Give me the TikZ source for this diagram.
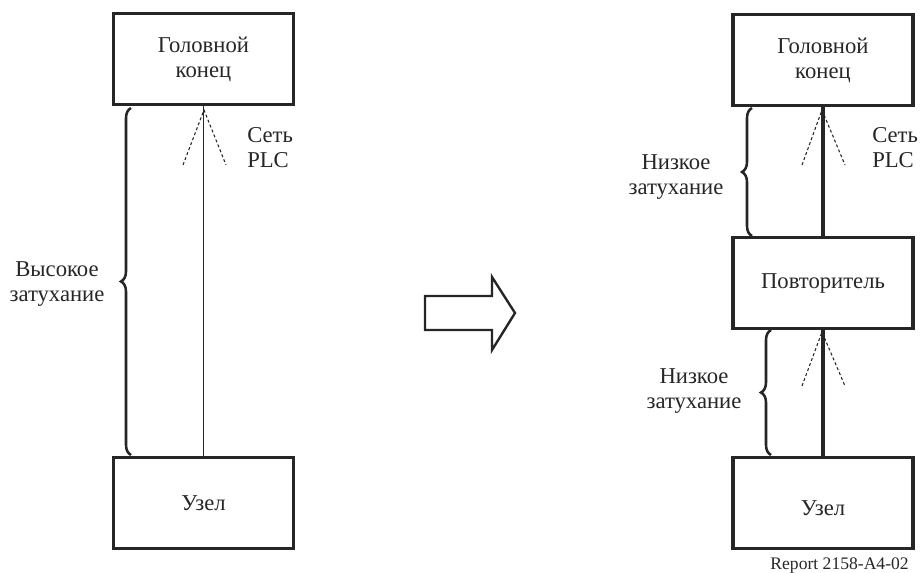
\documentclass[tikz,border=0pt]{standalone}
\usepackage{fontspec}
\setmainfont{Liberation Serif}
\usetikzlibrary{decorations.pathreplacing}
\definecolor{ink}{HTML}{262626}
\newcommand\mainsize{\fontsize{17}{18.8}\selectfont}
\newcommand\smallsize{\fontsize{13.2}{15}\selectfont}
\begin{document}
\begin{tikzpicture}[x=0.75pt,y=-0.75pt,
  box/.style={draw=ink,line width=2.3pt,minimum width=135pt,minimum height=68pt,inner sep=0pt,align=center,font=\mainsize,text=ink},
  lbl/.style={font=\mainsize,text=ink,inner sep=0pt},
  thinwire/.style={draw=ink,line width=1.1pt},
  thickwire/.style={draw=ink,line width=3pt},
  dots/.style={draw=ink,line width=0.8pt,dash pattern=on 2.2pt off 1.8pt},
  bracestyle/.style={draw=ink,line width=1.9pt,decorate,decoration={brace,amplitude=7.5pt}},
  hollow/.style={draw=ink,line width=1.8pt,fill=white,line join=miter}]
\useasboundingbox (0,0) rectangle (922,573);

% ---------- left diagram ----------
\node[box] (lhead) at (203.5,59) {Головной\\конец};
\node[box] (lnode) at (203.5,503) {Узел};
\draw[thinwire] (lnode.north) -- (lhead.south);
\coordinate (lapex) at (204,110);
\coordinate (lpl) at (183,165);
\coordinate (lpr) at (226,165);
\draw[dots] (lpl) -- (lapex) -- (lpr);
\node[lbl,anchor=west,align=left] (lplc) at (247,148) {Сеть\\PLC};
\coordinate (lbtop) at (131,108);
\coordinate (lbbot) at (131,455);
\draw[bracestyle] (lbbot) -- (lbtop);
\node[lbl,align=center] (lhigh) at (57,284) {Высокое\\затухание};

% ---------- hollow arrow ----------
\draw[hollow] (425,296) -- (492,296) -- (492,277) -- (515,313) -- (492,350) -- (492,330) -- (425,330) -- cycle;

% ---------- right diagram ----------
\node[box] (rhead) at (823,60) {Головной\\конец};
\node[box] (rrep) at (823,283) {Повторитель};
\node[box] (rnode) at (823,503) {\raisebox{-3.75pt}[\height][\depth]{Узел}};
\draw[thickwire] (rrep.north) -- (rhead.south);
\draw[thickwire] (rnode.north) -- (rrep.south);
\coordinate (rapex1) at (822,110);
\coordinate (rpl1) at (802,165);
\coordinate (rpr1) at (845,165);
\draw[dots] (rpl1) -- (rapex1) -- (rpr1);
\coordinate (rapex2) at (822,332);
\coordinate (rpl2) at (802,386);
\coordinate (rpr2) at (845,386);
\draw[dots] (rpl2) -- (rapex2) -- (rpr2);
\node[lbl,anchor=west,align=left] (rplc) at (872,148) {Сеть\\PLC};
\coordinate (rb1top) at (752,108);
\coordinate (rb1bot) at (752,236);
\draw[bracestyle] (rb1bot) -- (rb1top);
\node[lbl,align=center] (rlow1) at (676,177) {Низкое\\затухание};
\coordinate (rb2top) at (771,330);
\coordinate (rb2bot) at (771,455);
\draw[bracestyle] (rb2bot) -- (rb2top);
\node[lbl,align=center] (rlow2) at (694,391) {Низкое\\затухание};
\node[font=\smallsize,text=ink,inner sep=0pt,anchor=east] (rep) at (909,566) {Report 2158-A4-02};
\end{tikzpicture}
\end{document}
